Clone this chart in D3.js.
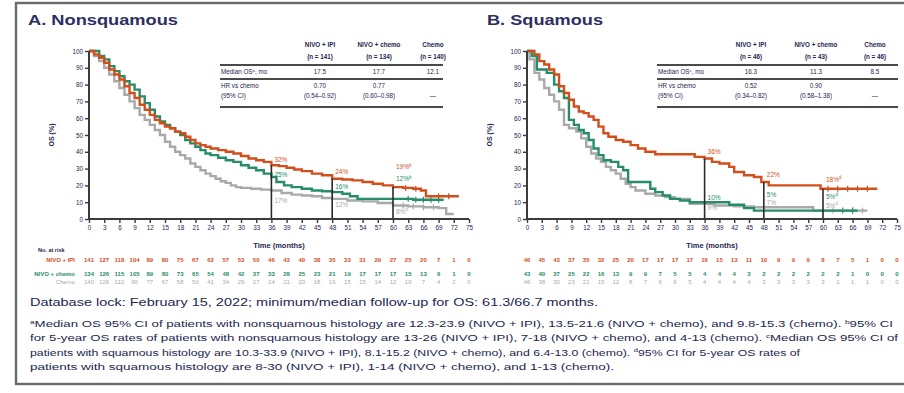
<!DOCTYPE html>
<html>
<head>
<meta charset="utf-8">
<script src="https://cdn.jsdelivr.net/npm/d3@7"></script>
<style>
  html, body { margin: 0; padding: 0; background: #fff; overflow: hidden; }
  svg { display: block; }
  text { font-family: "Liberation Sans Narrow", "Liberation Sans", Arial, sans-serif; fill: #23264f; }
</style>
</head>
<body>
<svg id="chart" width="904" height="393"></svg>
<script>
// ---------- axis ticks ----------
const xTicks = [0, 3, 6, 9, 12, 15, 18, 21, 24, 27, 30, 33, 36, 39, 42, 45, 48, 51, 54, 57, 60, 63, 66, 69, 72, 75];
const yTicks = [0, 10, 20, 30, 40, 50, 60, 70, 80, 90, 100];
const armNames = ["NIVO + IPI", "NIVO + chemo", "Chemo"];
const landmarks = [36, 48, 60];

// ---------- A. Nonsquamous: Kaplan-Meier steps (months, OS %) ----------
const nsqIpiTime = [0, 1, 2, 3, 4, 5, 6, 7, 8, 9, 10, 11, 12, 13, 14, 15, 16, 17, 18, 19, 20, 21, 22, 23, 24, 25.5, 27, 28.5, 30, 31.5, 33, 34.5, 36, 37.5, 39, 40.5, 42, 44, 46, 48, 50, 52, 54, 56, 58, 60, 62, 64, 65.5, 66.5, 73];
const nsqIpiOS   = [100, 98, 96, 93, 89, 86, 83, 79, 75, 72, 68, 65, 62, 59, 57, 55, 54, 52, 51, 49, 47, 45, 44, 43, 42, 41, 40, 39, 37.5, 36, 35, 34, 32, 31.5, 30.5, 29.5, 28.5, 27, 26, 24, 23.5, 23, 22, 21, 20, 19, 18.5, 18, 17, 13.5, 13.5];
const nsqNcTime  = [0, 2, 3, 4, 5, 6, 7, 8, 9, 10, 11, 12, 13, 14, 15, 16, 17, 18, 19, 20, 21, 22, 23, 24, 25.5, 27, 28.5, 30, 31.5, 33, 34.5, 36, 37, 38.5, 40, 42, 44, 46, 48, 50, 51.5, 53, 64, 70];
const nsqNcOS    = [100, 97, 95, 91, 88, 85, 82, 80, 77, 73, 69, 65, 61, 58, 56, 54, 52, 50, 47, 45, 43, 41, 39, 38, 36.5, 35, 34, 32, 30.5, 29, 27, 25, 22, 20, 19, 18, 17, 16.5, 16, 15, 13.5, 12, 11.5, 11.5];
const nsqChTime  = [0, 1, 2, 3, 4, 5, 6, 7, 8, 9, 10, 11, 12, 13, 14, 15, 16, 17, 18, 19, 20, 21, 22, 23, 24, 25, 26, 27, 28, 29, 30, 32, 34, 36, 38, 40, 42, 44, 46, 48, 51, 54, 57, 60, 63, 66, 69, 70.5, 72];
const nsqChOS    = [100, 97, 94, 90, 86, 82, 78, 74, 70, 66, 62, 59, 56, 53, 50, 46, 43, 40, 38, 36, 33, 31, 29, 27, 25.5, 24, 22.5, 21.5, 20, 19, 18.5, 18, 17.5, 17, 15.5, 14.5, 14, 13.5, 12.5, 12, 11, 10.5, 9.5, 8, 7.5, 7, 6.5, 3, 3];
const nsqCensorIpi = [62.5, 64.5, 69, 71];
const nsqCensorNc  = [63, 64.5, 66, 67.5, 69];
const nsqCensorCh  = [62, 64, 66, 68];

// landmark OS rates (%) at 36 / 48 / 60 months
const nsqRateIpi = [32, 24, 19];
const nsqRateNc  = [25, 16, 12];
const nsqRateCh  = [17, 12, 8];

// number at risk, every 3 months
const nsqRiskIpi = [141, 127, 118, 104, 89, 80, 75, 67, 62, 57, 53, 50, 46, 43, 40, 38, 35, 33, 31, 29, 27, 25, 20, 7, 1, 0];
const nsqRiskNc  = [134, 126, 115, 105, 89, 80, 73, 65, 54, 48, 42, 37, 33, 28, 25, 23, 21, 19, 17, 17, 17, 15, 13, 6, 1, 0];
const nsqRiskCh  = [140, 126, 110, 90, 77, 67, 58, 50, 41, 34, 29, 27, 24, 21, 20, 18, 16, 15, 15, 14, 12, 10, 7, 4, 2, 0];

// ---------- B. Squamous ----------
const sqIpiTime = [0, 1.5, 2.5, 3.5, 4.5, 5.5, 6.5, 7.5, 8.5, 9.5, 10.5, 11.5, 12.5, 13.5, 14.5, 15.5, 16.5, 18, 19.5, 21, 22.5, 24, 26, 34, 36, 37.5, 39, 41, 42, 44, 46, 47.5, 49, 59.5, 71];
const sqIpiOS   = [100, 98, 94, 92, 89, 86, 79, 75, 71, 67, 64, 63, 61, 59, 55, 51, 49, 47, 46, 44, 42, 40, 38.5, 37, 36, 34, 33, 31, 28, 26, 25, 22, 20, 18, 18];
const sqNcTime  = [0, 1, 2, 4, 5.5, 6.5, 7.5, 8.5, 9.5, 10.5, 11.5, 12.5, 13.5, 14.5, 15.5, 17, 18.5, 19.5, 20.5, 25, 26, 27.5, 29, 31, 33, 41, 44, 46, 67];
const sqNcOS    = [100, 97, 89, 87, 80, 76, 72, 59, 56, 53, 51, 47, 42, 38, 35, 34, 31, 29, 22, 18, 16, 14, 12, 11, 10, 8.5, 6.5, 5, 5];
const sqChTime  = [0, 0.5, 1.5, 2.5, 3.5, 4.5, 5.5, 6.5, 7.5, 8.5, 10, 11, 12, 13, 14, 15, 16, 17, 18, 19, 20, 21, 22, 24, 26, 28, 30, 33, 38, 42, 46, 58, 69];
const sqChOS    = [100, 95, 87, 83, 78, 74, 70, 65, 56, 54, 52, 48, 43, 39, 36, 34, 31, 29, 27, 24, 21, 19, 17, 15, 14, 13, 12, 9, 8, 7.5, 7, 5, 5];
const sqCensorIpi = [61, 63, 65, 67, 69];
const sqCensorNc  = [64, 66];
const sqCensorCh  = [62, 66, 68];

const sqRateIpi = [36, 22, 18];
const sqRateNc  = [10, 5, 5];
const sqRateCh  = [9, 7, 5];

const sqRiskIpi = [46, 45, 43, 37, 35, 32, 25, 20, 17, 17, 17, 17, 16, 15, 13, 11, 10, 9, 9, 9, 8, 7, 5, 1, 0, 0];
const sqRiskNc  = [43, 40, 37, 25, 22, 16, 13, 9, 9, 7, 5, 5, 4, 4, 4, 3, 2, 2, 2, 2, 2, 2, 1, 0, 0, 0];
const sqRiskCh  = [46, 38, 30, 23, 21, 15, 12, 8, 7, 6, 6, 5, 4, 4, 4, 4, 3, 3, 3, 3, 3, 1, 1, 1, 0, 0];

// ---------- summary tables ----------
const nsqCounts = ["(n = 141)", "(n = 134)", "(n = 140)"];
const nsqMedian = ["17.5", "17.7", "12.1"];
const nsqHR     = ["0.70", "0.77", ""];
const nsqHRci   = ["(0.54–0.92)", "(0.60–0.98)", "—"];
const sqCounts  = ["(n = 46)", "(n = 43)", "(n = 46)"];
const sqMedian  = ["16.3", "11.3", "8.5"];
const sqHR      = ["0.52", "0.90", ""];
const sqHRci    = ["(0.34–0.82)", "(0.58–1.38)", "—"];

const colors = ["#d24f1c", "#278d68", "#a9a9a9"];
const ink = "#23264f";
const axisInk = "#3b3b3b";

const svg = d3.select("#chart");

// outer frame
svg.append("rect").attr("x", 16).attr("y", 3).attr("width", 900).attr("height", 381)
  .attr("fill", "none").attr("stroke", "#6a6a6a").attr("stroke-width", 2.4);

function stepValue(times, os, t) {
  const i = d3.bisectRight(times, t) - 1;
  return os[Math.max(0, i)];
}

function drawPanel(cfg) {
  const g = svg.append("g");
  const x = d3.scaleLinear().domain([0, 75]).range([cfg.x0, cfg.x1]);
  const y = d3.scaleLinear().domain([0, 100]).range([219, 51]);

  // title
  g.append("text").attr("x", cfg.titleX).attr("y", 25).text(cfg.title)
    .attr("font-family", "'Liberation Sans', Arial, sans-serif")
    .attr("font-weight", "bold").attr("font-size", 15.5).style("fill", "#2d2f62")
    .attr("textLength", cfg.titleLen).attr("lengthAdjust", "spacingAndGlyphs");

  // curves
  const line = d3.line().x(d => x(d[0])).y(d => y(d[1])).curve(d3.curveStepAfter);
  // grey first, then green, orange on top
  [2, 1, 0].forEach(k => {
    const s = cfg.series[k];
    const pts = s.time.map((t, i) => [t, s.os[i]]);
    g.append("path").attr("d", line(pts)).attr("fill", "none")
      .attr("stroke", colors[k]).attr("stroke-width", 2.4).attr("stroke-linejoin", "miter");
    s.censor.forEach(t => {
      const v = stepValue(s.time, s.os, t);
      g.append("line").attr("x1", x(t)).attr("x2", x(t))
        .attr("y1", y(v) - 3).attr("y2", y(v) + 3)
        .attr("stroke", colors[k]).attr("stroke-width", 1.2);
    });
  });

  // landmark verticals and rate labels
  landmarks.forEach((m, j) => {
    g.append("line").attr("x1", x(m)).attr("x2", x(m))
      .attr("y1", y(0)).attr("y2", y(cfg.series[0].rates[j]))
      .attr("stroke", "#2a2a2a").attr("stroke-width", 1.6);
    [0, 1, 2].forEach(k => {
      const v = cfg.series[k].rates[j];
      const t = g.append("text").attr("x", x(m) + 3)
        .attr("y", y(v) + cfg.nudge[j][k] + 2.2)
        .attr("font-size", 6.5).style("fill", colors[k]).text(v + "%");
      if (j === 2) t.append("tspan").attr("font-size", 4.5).attr("dy", -2.5).text(cfg.fivey);
    });
  });

  // axes
  const yAxis = d3.axisLeft(y).tickValues(yTicks).tickSize(4).tickPadding(2);
  const ya = g.append("g").attr("transform", `translate(${cfg.x0},0)`).call(yAxis);
  const xAxis = d3.axisBottom(x).tickValues(xTicks).tickSize(4).tickPadding(3);
  const xa = g.append("g").attr("transform", `translate(0,219)`).call(xAxis);
  [ya, xa].forEach(a => {
    a.select(".domain").attr("stroke", axisInk).attr("stroke-width", 2);
    a.selectAll(".tick line").attr("stroke", axisInk).attr("stroke-width", 1.4);
    a.selectAll(".tick text").attr("font-size", 6.3).style("fill", ink)
      .attr("font-family", "'Liberation Sans Narrow', Arial, sans-serif");
  });
  ya.select(".domain").attr("d", `M0,${y(0)}V${y(100)}`);
  xa.select(".domain").attr("d", `M${x(0)},0H${x(75)}`);

  g.append("text").attr("transform", `translate(${cfg.x0 - 35},${y(50)}) rotate(-90)`)
    .attr("text-anchor", "middle").attr("font-size", 7).attr("font-weight", "bold").text("OS (%)");
  g.append("text").attr("x", x(37.5)).attr("y", 248).attr("text-anchor", "middle")
    .attr("font-size", 7.5).attr("font-weight", "bold").text("Time (months)");

  // number at risk
  const rowY = [262, 276, 284];
  [0, 1, 2].forEach(k => {
    cfg.series[k].risk.forEach((n, i) => {
      g.append("text").attr("x", x(xTicks[i])).attr("y", rowY[k]).attr("text-anchor", "middle")
        .attr("font-size", 6).attr("font-weight", k < 2 ? "bold" : "normal")
        .style("fill", colors[k]).text(n);
    });
  });

  // summary table
  const tb = cfg.table;
  const tx0 = tb.x0, tx1 = tb.x1;
  [65, 79, 107].forEach(ly => {
    g.append("line").attr("x1", tx0).attr("x2", tx1).attr("y1", ly).attr("y2", ly)
      .attr("stroke", "#4a4a4a").attr("stroke-width", 2.2);
  });
  const cell = (cx, cy, txt, bold) => g.append("text").attr("x", cx).attr("y", cy)
    .attr("text-anchor", "middle").attr("font-size", 6.3)
    .attr("font-weight", bold ? "bold" : "normal").text(txt);
  armNames.forEach((nm, c) => {
    cell(tb.cols[c], 47, nm, true);
    cell(tb.cols[c], 59, tb.counts[c], true);
    cell(tb.cols[c], 74, tb.median[c], false);
    if (tb.hr[c]) cell(tb.cols[c], 88, tb.hr[c], false);
    cell(tb.cols[c], 98, tb.ci[c], false);
  });
  const med = g.append("text").attr("x", tx0 + 1).attr("y", 74).attr("font-size", 6.3).text("Median OS");
  med.append("tspan").attr("font-size", 4.3).attr("dy", -2.4).text(tb.medMark);
  med.append("tspan").attr("dy", 2.4).text(", mo");
  g.append("text").attr("x", tx0 + 1).attr("y", 88).attr("font-size", 6.3).text("HR vs chemo");
  g.append("text").attr("x", tx0 + 1).attr("y", 98).attr("font-size", 6.3).text("(95% CI)");

  return x;
}

drawPanel({
  title: "A. Nonsquamous", titleX: 28, titleLen: 150, x0: 89, x1: 469, fivey: "b",
  series: [
    { time: nsqIpiTime, os: nsqIpiOS, censor: nsqCensorIpi, rates: nsqRateIpi, risk: nsqRiskIpi },
    { time: nsqNcTime, os: nsqNcOS, censor: nsqCensorNc, rates: nsqRateNc, risk: nsqRiskNc },
    { time: nsqChTime, os: nsqChOS, censor: nsqCensorCh, rates: nsqRateCh, risk: nsqRiskCh }
  ],
  nudge: [[-5, -2, 10], [-7, -5, 6], [-20, -20, 6]],
  table: { x0: 220, x1: 443, cols: [320, 379, 433], counts: nsqCounts, median: nsqMedian,
           hr: nsqHR, ci: nsqHRci, medMark: "a" }
});

drawPanel({
  title: "B. Squamous", titleX: 487, titleLen: 116, x0: 527, x1: 897, fivey: "d",
  series: [
    { time: sqIpiTime, os: sqIpiOS, censor: sqCensorIpi, rates: sqRateIpi, risk: sqRiskIpi },
    { time: sqNcTime, os: sqNcOS, censor: sqCensorNc, rates: sqRateNc, risk: sqRiskNc },
    { time: sqChTime, os: sqChOS, censor: sqCensorCh, rates: sqRateCh, risk: sqRiskCh }
  ],
  nudge: [[-7, -4, 4], [-7, -16, -4], [-9, -14, -5]],
  table: { x0: 657, x1: 898, cols: [751, 816, 875], counts: sqCounts, median: sqMedian,
           hr: sqHR, ci: sqHRci, medMark: "c" }
});

// number-at-risk row labels
svg.append("text").attr("x", 38).attr("y", 252).attr("font-size", 5.5).attr("font-weight", "bold").text("No. at risk");
armNames.forEach((nm, k) => {
  svg.append("text").attr("x", 75).attr("y", [262, 276, 284][k]).attr("text-anchor", "end")
    .attr("font-size", 6).attr("font-weight", k < 2 ? "bold" : "normal")
    .style("fill", colors[k]).text(nm);
});

// footnotes
svg.append("text").attr("x", 30).attr("y", 306).attr("font-size", 10.5)
  .attr("textLength", 568).attr("lengthAdjust", "spacingAndGlyphs")
  .text("Database lock: February 15, 2022; minimum/median follow-up for OS: 61.3/66.7 months.");

const notes = [
  [["a", "Median OS 95% CI of patients with nonsquamous histology are 12.3-23.9 (NIVO + IPI), 13.5-21.6 (NIVO + chemo), and 9.8-15.3 (chemo). "], ["b", "95% CI"]],
  [["", "for 5-year OS rates of patients with nonsquamous histology are 13-26 (NIVO + IPI), 7-18 (NIVO + chemo), and 4-13 (chemo). "], ["c", "Median OS 95% CI of"]],
  [["", "patients with squamous histology are 10.3-33.9 (NIVO + IPI), 8.1-15.2 (NIVO + chemo), and 6.4-13.0 (chemo). "], ["d", "95% CI for 5-year OS rates of"]],
  [["", "patients with squamous histology are 8-30 (NIVO + IPI), 1-14 (NIVO + chemo), and 1-13 (chemo)."]]
];
const noteLen = [863, 868, 770, 584];
notes.forEach((parts, i) => {
  const t = svg.append("text").attr("x", 30).attr("y", 327 + i * 14.3).attr("font-size", 9.6)
    .attr("textLength", noteLen[i]).attr("lengthAdjust", "spacingAndGlyphs");
  parts.forEach(([sup, body]) => {
    if (sup) t.append("tspan").attr("font-size", 6).attr("dy", -3.5).text(sup);
    t.append("tspan").attr("dy", sup ? 3.5 : 0).text(body);
  });
});
</script>
</body>
</html>
